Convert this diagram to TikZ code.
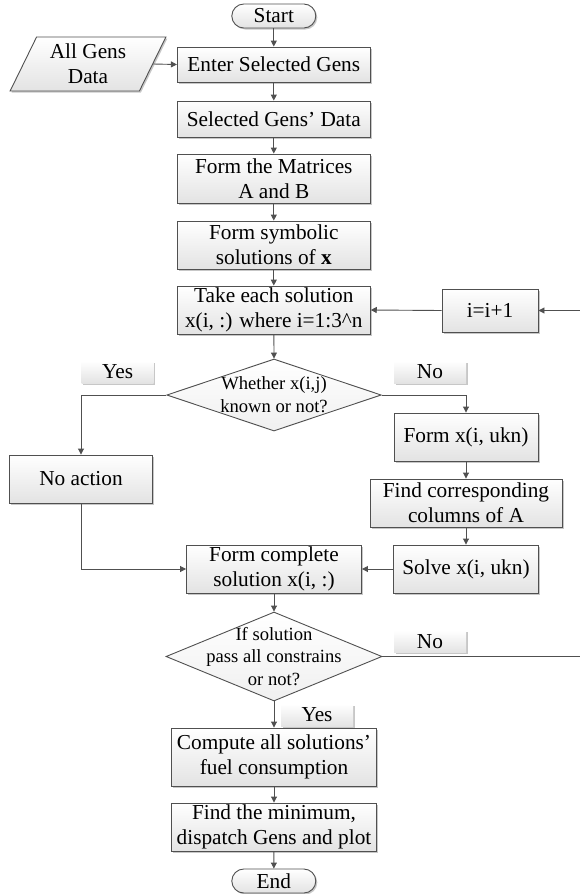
\documentclass[tikz,border=0pt]{standalone}
\usepackage{fontspec}
\setmainfont{Liberation Serif}
\usetikzlibrary{arrows.meta,shapes.geometric,shadows}
\definecolor{ln}{HTML}{505050}
\begin{document}
\begin{tikzpicture}[x=1pt,y=-1pt,
  every node/.style={inner sep=0pt, align=center},
  shade/.style={top color=white, bottom color=black!11,
    drop shadow={shadow xshift=1.5pt, shadow yshift=-1.5pt, fill=black, opacity=0.22}},
  fbox/.style={shade, draw=ln, line width=0.9pt, font=\fontsize{21.3}{25.3}\selectfont},
  term/.style={fbox, rounded corners=12pt, minimum width=84pt, minimum height=24pt},
  dia/.style={diamond, draw=ln, line width=0.9pt, top color=white, bottom color=black!6},
  dtext/.style={font=\fontsize{18.6}{22.8}\selectfont},
  lbl/.style={shade, minimum width=72pt, minimum height=22pt, font=\fontsize{21.3}{25}\selectfont},
  arr/.style={draw=ln, line width=0.9pt, -{Triangle[length=6pt,width=6pt]}},
  ln/.style={draw=ln, line width=0.9pt}]
\useasboundingbox (0,0) rectangle (579,894);

% nodes
\node[term] (start) at (273.8,16) {Start};
\node[fbox, trapezium, trapezium left angle=64, trapezium right angle=116,
      trapezium stretches=true, minimum width=156pt, minimum height=54pt] (all) at (88,64) {All Gens\\Data};
\node[fbox, minimum width=193pt, minimum height=35pt] (enter) at (273.8,64.5) {Enter Selected Gens};
\node[fbox, minimum width=193pt, minimum height=36pt] (sel) at (273.8,119) {Selected Gens’ Data};
\node[fbox, minimum width=193pt, minimum height=49pt] (mat) at (273.8,178.5) {Form the Matrices\\A and B};
\node[fbox, minimum width=193pt, minimum height=48pt] (sym) at (273.8,245) {Form symbolic\\solutions of \textbf{x}};
\node[fbox, minimum width=193pt, minimum height=48pt] (take) at (273.8,310) {Take each solution\\x(i, :) where i=1:3\textasciicircum n};
\node[fbox, minimum width=96pt, minimum height=43pt] (inc) at (490,310.5) {i=i+1};

\node[dia, minimum width=214.5pt, minimum height=72pt] (d1) at (274,395) {};
\node[dtext] (d1t) at (274,395) {Whether x(i,j)\\known or not?};
\node[lbl] (yes1) at (117.7,372) {Yes};
\node[lbl] (no1) at (430,372) {No};

\node[fbox, minimum width=143pt, minimum height=48pt] (noact) at (81,479) {No action};
\node[fbox, minimum width=144pt, minimum height=48pt] (formx) at (466,437) {Form x(i, ukn)};
\node[fbox, minimum width=192pt, minimum height=48pt] (find) at (466,503) {Find corresponding\\columns of A};
\node[fbox, minimum width=145pt, minimum height=48pt] (solve) at (466,569) {Solve x(i, ukn)};
\node[fbox, minimum width=175pt, minimum height=48pt] (fc) at (274,569) {Form complete\\solution x(i, :)};

\node[dia, minimum width=216pt, minimum height=89pt] (d2) at (274,656.5) {};
\node[dtext] (d2t) at (274,656.5) {If solution\\pass all constrains\\or not?};
\node[lbl] (no2) at (430,641.5) {No};
\node[lbl] (yes2) at (317,715) {Yes};

\node[fbox, minimum width=205pt, minimum height=58pt] (comp) at (274,757) {Compute all solutions’\\fuel consumption};
\node[fbox, minimum width=205pt, minimum height=48pt] (fmin) at (274,827) {Find the minimum,\\dispatch Gens and plot};
\node[term] (end) at (273.8,881) {End};

\coordinate (r1) at (586,656.5);
\coordinate (r2) at (586,310.5);

% connectors
\draw[arr] (start) -- (enter);
\draw[arr] (all.east) -- (enter.west);
\draw[arr] (enter) -- (sel);
\draw[arr] (sel) -- (mat);
\draw[arr] (mat) -- (sym);
\draw[arr] (sym) -- (take);
\draw[arr] (take) -- (d1.north);
\draw[arr] (inc.west) -- (take.east);
\draw[arr] (d1.west) -| (noact.north);
\draw[arr] (d1.east) -| (formx.north);
\draw[arr] (formx) -- (find);
\draw[arr] (find) -- (solve);
\draw[arr] (solve.west) -- (fc.east);
\draw[arr] (noact.south) |- (fc.west);
\draw[arr] (fc) -- (d2.north);
\draw[arr] (d2.south) -- (comp.north);
\draw[arr] (comp) -- (fmin);
\draw[arr] (fmin) -- (end);
\draw[ln] (d2.east) -- (r1) -- (r2);
\draw[arr] (r2) -- (inc.east);
\end{tikzpicture}
\end{document}
